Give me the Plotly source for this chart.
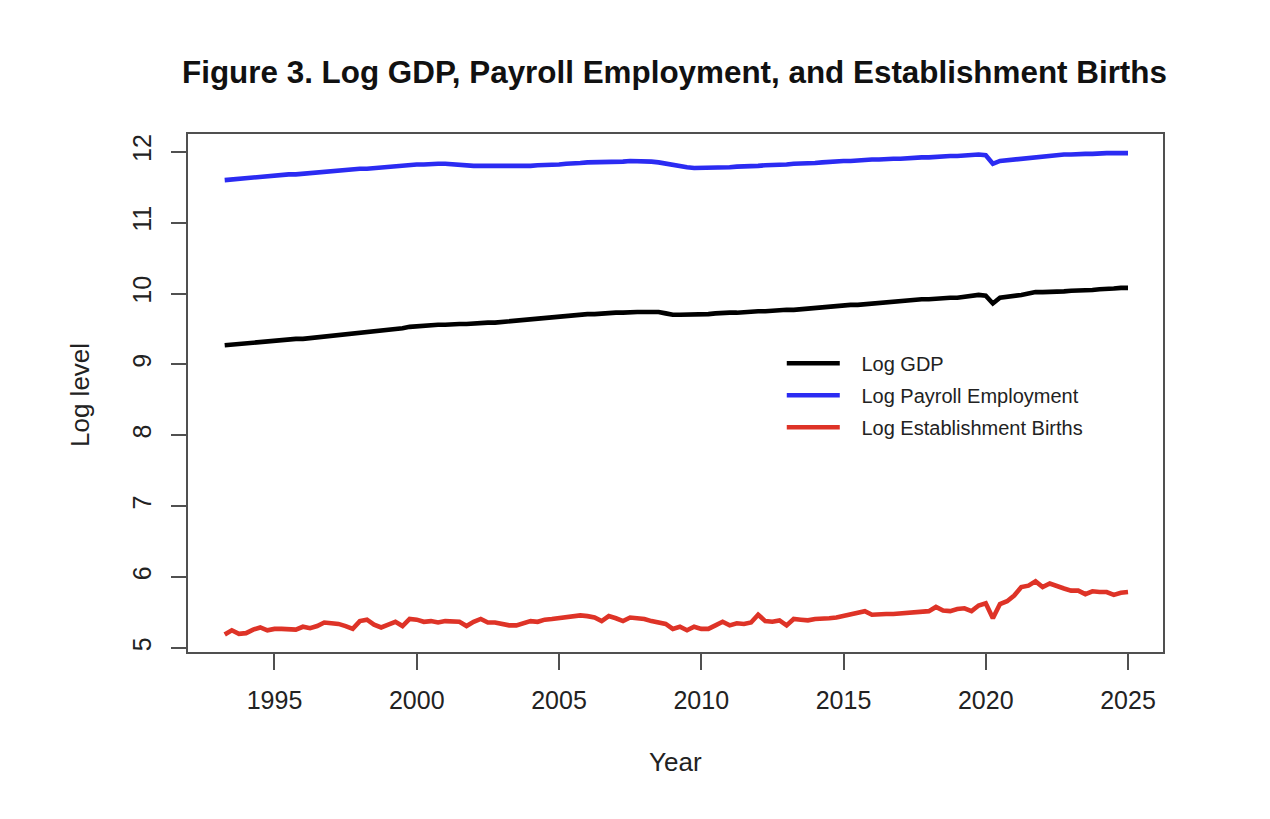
import plotly.graph_objects as go

# Quarterly observations, 1993 Q2 .. 2025 Q1 (year + (quarter-1)/4)
start_year = 1993.25
quarter_step = 0.25

log_gdp = [
    9.27, 9.28, 9.29,
    9.30, 9.31, 9.32, 9.33,
    9.33, 9.34, 9.35, 9.36,
    9.36, 9.37, 9.39, 9.40,
    9.41, 9.42, 9.43, 9.44,
    9.45, 9.46, 9.47, 9.48,
    9.49, 9.50, 9.51, 9.53,
    9.54, 9.55, 9.56, 9.56,
    9.56, 9.57, 9.57, 9.57,
    9.58, 9.58, 9.59, 9.59,
    9.60, 9.60, 9.61, 9.62,
    9.63, 9.64, 9.65, 9.66,
    9.67, 9.68, 9.69, 9.70,
    9.71, 9.71, 9.72, 9.72,
    9.73, 9.73, 9.74, 9.74,
    9.74, 9.74, 9.74, 9.72,
    9.70, 9.70, 9.70, 9.70,
    9.71, 9.71, 9.72, 9.73,
    9.73, 9.73, 9.74, 9.74,
    9.75, 9.75, 9.76, 9.76,
    9.77, 9.77, 9.78, 9.79,
    9.79, 9.80, 9.81, 9.82,
    9.83, 9.84, 9.84, 9.85,
    9.86, 9.87, 9.88, 9.89,
    9.89, 9.90, 9.91, 9.92,
    9.92, 9.93, 9.93, 9.94,
    9.94, 9.95, 9.97, 9.98,
    9.97, 9.86, 9.94, 9.95,
    9.96, 9.98, 10.00, 10.02,
    10.02, 10.02, 10.03, 10.03,
    10.04, 10.04, 10.05, 10.05,
    10.06, 10.06, 10.07, 10.08,
    10.08,
]

log_payroll = [
    11.60, 11.61, 11.62,
    11.63, 11.64, 11.65, 11.66,
    11.67, 11.67, 11.68, 11.68,
    11.69, 11.70, 11.71, 11.72,
    11.72, 11.73, 11.74, 11.75,
    11.76, 11.76, 11.77, 11.78,
    11.78, 11.79, 11.80, 11.81,
    11.82, 11.82, 11.83, 11.83,
    11.83, 11.82, 11.82, 11.81,
    11.80, 11.80, 11.80, 11.80,
    11.79, 11.79, 11.79, 11.80,
    11.80, 11.81, 11.81, 11.82,
    11.82, 11.83, 11.83, 11.84,
    11.85, 11.85, 11.86, 11.86,
    11.86, 11.86, 11.87, 11.87,
    11.86, 11.86, 11.85, 11.83,
    11.81, 11.79, 11.78, 11.77,
    11.77, 11.77, 11.77, 11.78,
    11.78, 11.79, 11.79, 11.80,
    11.80, 11.81, 11.81, 11.82,
    11.82, 11.83, 11.83, 11.84,
    11.84, 11.85, 11.86, 11.86,
    11.87, 11.87, 11.88, 11.88,
    11.89, 11.89, 11.90, 11.90,
    11.90, 11.91, 11.91, 11.92,
    11.92, 11.93, 11.93, 11.94,
    11.94, 11.95, 11.95, 11.96,
    11.95, 11.83, 11.87, 11.88,
    11.89, 11.90, 11.92, 11.93,
    11.94, 11.95, 11.95, 11.96,
    11.96, 11.97, 11.97, 11.97,
    11.98, 11.98, 11.98, 11.98,
    11.98,
]

log_births = [
    5.19, 5.25, 5.20,
    5.21, 5.26, 5.29, 5.25,
    5.27, 5.27, 5.26, 5.26,
    5.30, 5.28, 5.31, 5.36,
    5.35, 5.34, 5.31, 5.27,
    5.38, 5.40, 5.33, 5.29,
    5.33, 5.37, 5.31, 5.41,
    5.40, 5.37, 5.38, 5.36,
    5.38, 5.37, 5.37, 5.31,
    5.37, 5.41, 5.36, 5.36,
    5.34, 5.32, 5.32, 5.35,
    5.38, 5.37, 5.40, 5.41,
    5.42, 5.43, 5.45, 5.46,
    5.45, 5.43, 5.38, 5.45,
    5.42, 5.38, 5.43, 5.42,
    5.41, 5.38, 5.36, 5.34,
    5.27, 5.30, 5.25, 5.30,
    5.27, 5.27, 5.32, 5.37,
    5.32, 5.35, 5.34, 5.36,
    5.47, 5.38, 5.37, 5.39,
    5.32, 5.41, 5.40, 5.39,
    5.41, 5.41, 5.42, 5.43,
    5.45, 5.47, 5.50, 5.52,
    5.47, 5.48, 5.48, 5.48,
    5.49, 5.49, 5.50, 5.51,
    5.52, 5.58, 5.53, 5.52,
    5.55, 5.56, 5.52, 5.60,
    5.63, 5.42, 5.62, 5.66,
    5.74, 5.86, 5.88, 5.94,
    5.86, 5.91, 5.87, 5.84,
    5.81, 5.81, 5.76, 5.80,
    5.79, 5.79, 5.75, 5.78,
    5.79,
]

x_ticks = [1995, 2000, 2005, 2010, 2015, 2020, 2025]
y_ticks = [5, 6, 7, 8, 9, 10, 11, 12]

series_names = ["Log GDP", "Log Payroll Employment", "Log Establishment Births"]
series_colors = ["#000000", "#2B2BF2", "#DE3327"]
series_values = [log_gdp, log_payroll, log_births]

NBSP = "\u00a0"

fig = go.Figure()
for i, (name, color, vals) in enumerate(zip(series_names, series_colors, series_values)):
    xs = [start_year + quarter_step * k for k in range(len(vals))]
    fig.add_trace(go.Scatter(
        x=xs, y=vals, mode="lines", name=NBSP * 3 + name,
        legendgroup=f"g{i}",
        line=dict(color=color, width=4.6),
    ))

FONT = "Liberation Sans, Arial, sans-serif"
axis_col = "#505050"

W, H = 1270, 819
OFF = 8  # page body margin offset
# target plot box on screen: left 188, right 1163, top 134, bottom 652
ml, mr, mt, mb = 188 - OFF, W - (1163 - OFF), 134 - OFF, H - (652 - OFF)
w_plot = W - ml - mr
h_plot = H - mt - mb

fig.update_layout(
    width=W, height=H,
    paper_bgcolor="white", plot_bgcolor="white",
    margin=dict(l=ml, r=mr, t=mt, b=mb),
    font=dict(family=FONT, color="#222222", size=25),
    title=dict(
        text="<b>Figure 3. Log GDP, Payroll Employment, and Establishment Births</b>",
        x=(674.5 - OFF) / W, xanchor="center", y=1 - (72 - OFF) / H, yanchor="middle",
        font=dict(family=FONT, size=31.4, color="#111111"),
    ),
    showlegend=True,
    legend=dict(
        x=0.609, y=0.595, xanchor="left", yanchor="top",
        bgcolor="rgba(0,0,0,0)", borderwidth=0,
        font=dict(family=FONT, size=20, color="#222222"),
        tracegroupgap=3, itemwidth=53,
    ),
    xaxis=dict(
        range=[1991.96, 2026.23], tickmode="array", tickvals=x_ticks,
        ticktext=[str(t) for t in x_ticks],
        showgrid=False, zeroline=False,
        showline=True, mirror=True, linecolor=axis_col, linewidth=1.5,
        ticks="outside", ticklen=16, tickwidth=1.5, tickcolor=axis_col,
        tickfont=dict(size=25, color="#222222"),
        ticklabelstandoff=9,
    ),
    yaxis=dict(
        range=[4.944, 12.25], tickmode="array", tickvals=y_ticks,
        ticktext=[str(t) for t in y_ticks],
        showgrid=False, zeroline=False,
        showline=True, mirror=True, linecolor=axis_col, linewidth=1.5,
        ticks="outside", ticklen=15, tickwidth=1.5, tickcolor=axis_col,
        tickfont=dict(size=25, color="#222222"),
        tickangle=-90, ticklabelstandoff=10,
    ),
    annotations=[
        dict(text="Year", x=(675 - 188) / w_plot, y=-(762 - 652) / h_plot,
             xref="paper", yref="paper",
             xanchor="center", yanchor="middle", showarrow=False,
             font=dict(family=FONT, size=26, color="#222222")),
        dict(text="Log level", x=-(188 - 80) / w_plot, y=(652 - 395) / h_plot,
             xref="paper", yref="paper",
             xanchor="center", yanchor="middle", showarrow=False, textangle=-90,
             font=dict(family=FONT, size=26, color="#222222")),
    ],
)

fig.write_html("out.html")
